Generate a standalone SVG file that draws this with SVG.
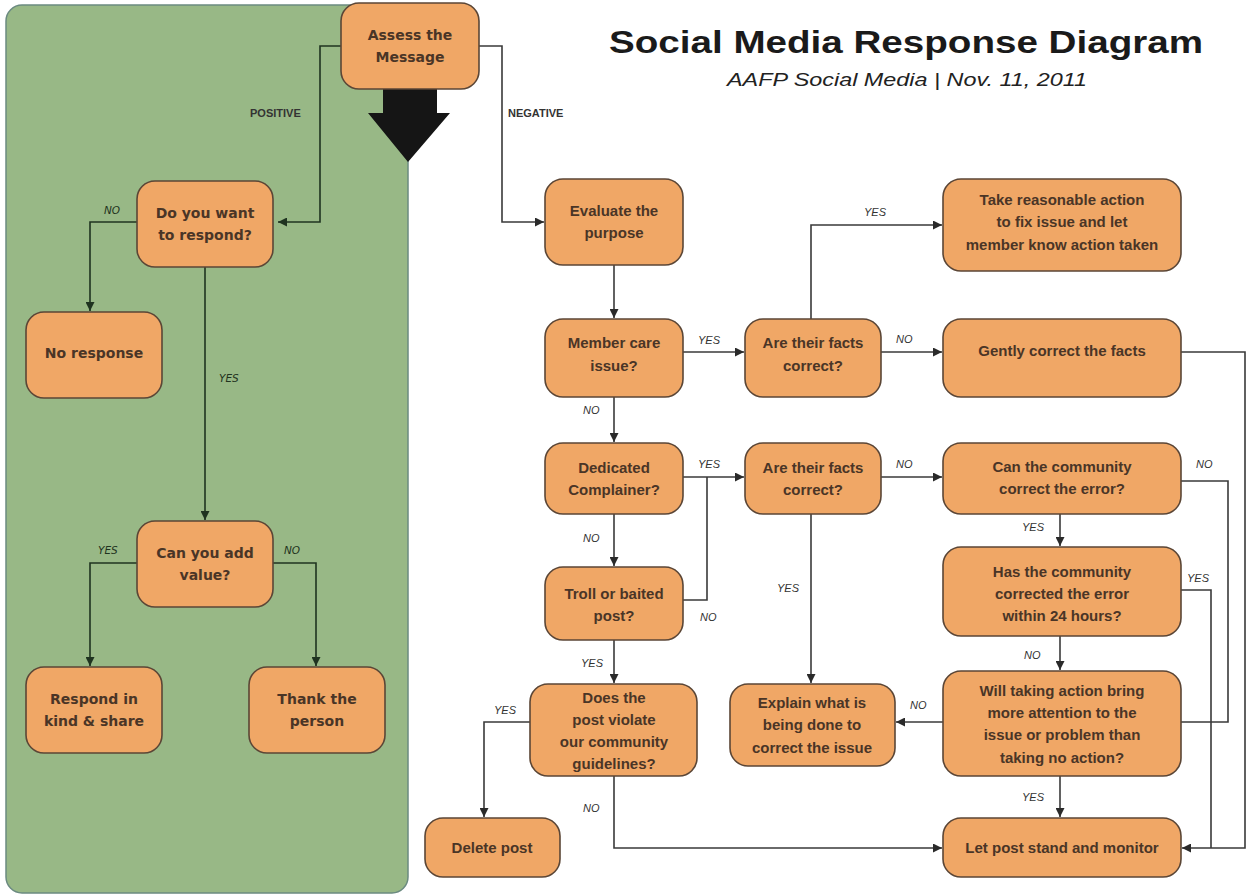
<svg xmlns="http://www.w3.org/2000/svg" width="1247" height="896" viewBox="0 0 1247 896">
<style>
.node{fill:#f0a766;stroke:#5b4636;stroke-width:1.6}
.t{font-family:"Liberation Sans",Arial,sans-serif;font-weight:bold;font-size:15px;fill:#4a3526;text-anchor:middle}
.tl{font-family:"DejaVu Sans",Verdana,sans-serif;font-weight:bold;font-size:14px;fill:#4a3526;text-anchor:middle}
.lab{font-family:"Liberation Sans",Arial,sans-serif;font-style:italic;font-size:11px;fill:#333}
.labg{font-family:"DejaVu Sans",Verdana,sans-serif;font-style:italic;font-size:10.5px;fill:#1f3320}
.cap{font-family:"Liberation Sans",Arial,sans-serif;font-weight:bold;font-size:11px;fill:#333}
.c{fill:none;stroke:#3a3a3a;stroke-width:1.6}
.cg{fill:none;stroke:#1f3320;stroke-width:1.6}
</style>
<defs>
<marker id="ar" viewBox="0 0 10 10" refX="10" refY="5" markerUnits="userSpaceOnUse" markerWidth="10" markerHeight="9" orient="auto">
<path d="M0,0 L10,5 L0,10 z" fill="#2a2a2a"/>
</marker>
<marker id="arg" viewBox="0 0 10 10" refX="10" refY="5" markerUnits="userSpaceOnUse" markerWidth="10" markerHeight="9" orient="auto">
<path d="M0,0 L10,5 L0,10 z" fill="#1f3320"/>
</marker>
</defs>
<rect width="1247" height="896" fill="#ffffff"/>
<rect id="positive-panel" x="6" y="5" width="402" height="888" rx="16" fill="#98b886" stroke="#6b8a80" stroke-width="1.5"/>

<g id="title">
<text x="906" y="53" font-family="Liberation Sans,Arial,sans-serif" font-weight="bold" font-size="31" fill="#1a1a1a" text-anchor="middle" textLength="594" lengthAdjust="spacingAndGlyphs">Social Media Response Diagram</text>
<text x="907" y="86" font-family="Liberation Sans,Arial,sans-serif" font-style="italic" font-size="19" fill="#222" text-anchor="middle" textLength="360" lengthAdjust="spacingAndGlyphs">AAFP Social Media | Nov. 11, 2011</text>
</g>

<g id="connectors">
<path class="cg" d="M341,46 H320 V222 H278" marker-end="url(#arg)"/>
<path class="c" d="M479,46 H502 V222 H544" marker-end="url(#ar)"/>
<path class="cg" d="M137,222 H90 V311" marker-end="url(#arg)"/>
<path class="cg" d="M205,267 V520" marker-end="url(#arg)"/>
<path class="cg" d="M137,563 H90 V666" marker-end="url(#arg)"/>
<path class="cg" d="M273,563 H316 V666" marker-end="url(#arg)"/>
<path class="c" d="M614,265 V318" marker-end="url(#ar)"/>
<path class="c" d="M683,352 H744" marker-end="url(#ar)"/>
<path class="c" d="M881,352 H942" marker-end="url(#ar)"/>
<path class="c" d="M811,319 V225 H942" marker-end="url(#ar)"/>
<path class="c" d="M1181,352 H1245 V848 H1182" marker-end="url(#ar)"/>
<path class="c" d="M614,397 V442" marker-end="url(#ar)"/>
<path class="c" d="M683,477 H744" marker-end="url(#ar)"/>
<path class="c" d="M683,600 H707 V477"/>
<path class="c" d="M614,514 V566" marker-end="url(#ar)"/>
<path class="c" d="M881,477 H942" marker-end="url(#ar)"/>
<path class="c" d="M811,514 V683" marker-end="url(#ar)"/>
<path class="c" d="M1060,514 V546" marker-end="url(#ar)"/>
<path class="c" d="M1181,481 H1228 V722 H1181"/>
<path class="c" d="M1181,590 H1211 V848"/>
<path class="c" d="M1060,636 V670" marker-end="url(#ar)"/>
<path class="c" d="M943,722 H896" marker-end="url(#ar)"/>
<path class="c" d="M1060,776 V817" marker-end="url(#ar)"/>
<path class="c" d="M614,640 V683" marker-end="url(#ar)"/>
<path class="c" d="M530,722 H484 V817" marker-end="url(#ar)"/>
<path class="c" d="M614,776 V848 H942" marker-end="url(#ar)"/>
</g>

<g id="labels">
<text class="cap" x="250" y="117">POSITIVE</text>
<text class="cap" x="508" y="117">NEGATIVE</text>
<text class="labg" x="104" y="214">NO</text>
<text class="labg" x="219" y="382">YES</text>
<text class="labg" x="98" y="554">YES</text>
<text class="labg" x="284" y="554">NO</text>
<text class="lab" x="864" y="216">YES</text>
<text class="lab" x="698" y="344">YES</text>
<text class="lab" x="896" y="343">NO</text>
<text class="lab" x="583" y="414">NO</text>
<text class="lab" x="698" y="468">YES</text>
<text class="lab" x="896" y="468">NO</text>
<text class="lab" x="1196" y="468">NO</text>
<text class="lab" x="583" y="542">NO</text>
<text class="lab" x="1022" y="531">YES</text>
<text class="lab" x="1187" y="582">YES</text>
<text class="lab" x="777" y="592">YES</text>
<text class="lab" x="700" y="621">NO</text>
<text class="lab" x="1024" y="659">NO</text>
<text class="lab" x="581" y="667">YES</text>
<text class="lab" x="910" y="709">NO</text>
<text class="lab" x="494" y="714">YES</text>
<text class="lab" x="1022" y="801">YES</text>
<text class="lab" x="583" y="812">NO</text>
</g>

<g id="big-arrow">
<polygon points="383,89 437,89 437,113 450,113 408,162 368,113 383,113" fill="#151515"/>
</g>

<g id="assess"><rect class="node" x="341" y="3" width="138" height="86" rx="18"/><text class="tl" x="410" y="40">Assess the</text><text class="tl" x="410" y="62">Message</text></g>
<g id="want-respond"><rect class="node" x="137" y="181" width="136" height="86" rx="18"/><text class="tl" x="205" y="218">Do you want</text><text class="tl" x="205" y="240">to respond?</text></g>
<g id="no-response"><rect class="node" x="26" y="312" width="136" height="86" rx="18"/><text class="tl" x="94" y="358">No response</text></g>
<g id="add-value"><rect class="node" x="137" y="521" width="136" height="86" rx="18"/><text class="tl" x="205" y="558">Can you add</text><text class="tl" x="205" y="580">value?</text></g>
<g id="respond-kind"><rect class="node" x="26" y="667" width="136" height="86" rx="18"/><text class="tl" x="94" y="704">Respond in</text><text class="tl" x="94" y="726">kind &amp; share</text></g>
<g id="thank"><rect class="node" x="249" y="667" width="136" height="86" rx="18"/><text class="tl" x="317" y="704">Thank the</text><text class="tl" x="317" y="726">person</text></g>

<g id="evaluate"><rect class="node" x="545" y="179" width="138" height="86" rx="18"/><text class="t" x="614" y="216">Evaluate the</text><text class="t" x="614" y="238">purpose</text></g>
<g id="member-care"><rect class="node" x="545" y="319" width="138" height="78" rx="18"/><text class="t" x="614" y="348">Member care</text><text class="t" x="614" y="371">issue?</text></g>
<g id="facts1"><rect class="node" x="745" y="319" width="136" height="78" rx="18"/><text class="t" x="813" y="348">Are their facts</text><text class="t" x="813" y="371">correct?</text></g>
<g id="gently"><rect class="node" x="943" y="319" width="238" height="78" rx="18"/><text class="t" x="1062" y="356">Gently correct the facts</text></g>
<g id="take-action"><rect class="node" x="943" y="179" width="238" height="92" rx="18"/><text class="t" x="1062" y="205">Take reasonable action</text><text class="t" x="1062" y="227">to fix issue and let</text><text class="t" x="1062" y="250">member know action taken</text></g>
<g id="dedicated"><rect class="node" x="545" y="443" width="138" height="71" rx="18"/><text class="t" x="614" y="473">Dedicated</text><text class="t" x="614" y="495">Complainer?</text></g>
<g id="facts2"><rect class="node" x="745" y="443" width="136" height="71" rx="18"/><text class="t" x="813" y="473">Are their facts</text><text class="t" x="813" y="495">correct?</text></g>
<g id="can-community"><rect class="node" x="943" y="443" width="238" height="71" rx="18"/><text class="t" x="1062" y="472">Can the community</text><text class="t" x="1062" y="494">correct the error?</text></g>
<g id="troll"><rect class="node" x="545" y="567" width="138" height="73" rx="18"/><text class="t" x="614" y="599">Troll or baited</text><text class="t" x="614" y="621">post?</text></g>
<g id="has-community"><rect class="node" x="943" y="547" width="238" height="89" rx="18"/><text class="t" x="1062" y="577">Has the community</text><text class="t" x="1062" y="599">corrected the error</text><text class="t" x="1062" y="621">within 24 hours?</text></g>
<g id="violate"><rect class="node" x="530" y="684" width="167" height="92" rx="18"/><text class="t" x="614" y="703">Does the</text><text class="t" x="614" y="725">post violate</text><text class="t" x="614" y="747">our community</text><text class="t" x="614" y="769">guidelines?</text></g>
<g id="explain"><rect class="node" x="730" y="684" width="165" height="82" rx="18"/><text class="t" x="812" y="708">Explain what is</text><text class="t" x="812" y="730">being done to</text><text class="t" x="812" y="753">correct the issue</text></g>
<g id="will-taking"><rect class="node" x="943" y="671" width="238" height="105" rx="18"/><text class="t" x="1062" y="696">Will taking action bring</text><text class="t" x="1062" y="718">more attention to the</text><text class="t" x="1062" y="740">issue or problem than</text><text class="t" x="1062" y="763">taking no action?</text></g>
<g id="delete"><rect class="node" x="425" y="818" width="135" height="59" rx="18"/><text class="t" x="492" y="853">Delete post</text></g>
<g id="let-stand"><rect class="node" x="943" y="818" width="238" height="59" rx="18"/><text class="t" x="1062" y="853">Let post stand and monitor</text></g>
</svg>
